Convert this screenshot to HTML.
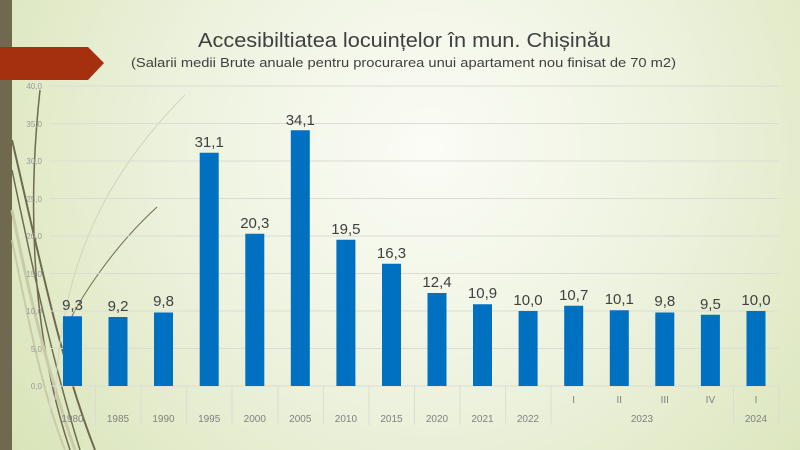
<!DOCTYPE html>
<html><head><meta charset="utf-8"><style>
body{margin:0;width:800px;height:450px;overflow:hidden;font-family:"Liberation Sans",sans-serif;}
</style></head><body>
<svg width="800" height="450" xmlns="http://www.w3.org/2000/svg" style="display:block">
<defs>
<radialGradient id="bg" cx="430" cy="150" r="520" gradientUnits="userSpaceOnUse">
<stop offset="0" stop-color="#fbfcf6"/><stop offset="0.45" stop-color="#eef3e0"/><stop offset="1" stop-color="#d9e4b8"/>
</radialGradient>
</defs>
<rect width="800" height="450" fill="url(#bg)"/>
<rect x="0" y="0" width="12" height="450" fill="#6f6a4f"/>
<g fill="none">
<path d="M40 90 C28 200 30 330 70 450" stroke="#6f6a4f" stroke-width="1.5"/>
<path d="M12 140 C40 260 60 360 95 450" stroke="#6f6a4f" stroke-width="2"/>
<path d="M12 170 C35 280 55 370 80 450" stroke="#6f6a4f" stroke-width="1.5"/>
<path d="M12 210 C30 300 50 380 75 450" stroke="#c8caa8" stroke-width="3"/>
<path d="M12 240 C30 330 45 400 65 450" stroke="#c8caa8" stroke-width="2"/>
<path d="M185 95 C110 170 60 260 55 400" stroke="#d2d4bc" stroke-width="1"/>
<path d="M157 207 C110 250 80 300 70 320" stroke="#6f6a4f" stroke-width="1"/>
</g>
<polygon points="0,47 88,47 104,63 88,80 0,80" fill="#a5300f"/>
<text x="198" y="47" font-size="20" fill="#404040" textLength="413" lengthAdjust="spacingAndGlyphs">Accesibiltiatea locuințelor în mun. Chișinău</text>
<text x="131" y="67" font-size="13" fill="#404040" textLength="545" lengthAdjust="spacingAndGlyphs">(Salarii medii Brute anuale pentru procurarea unui apartament nou finisat de 70 m2)</text>
<g stroke="#dcdcd4" stroke-width="1">
<line x1="50" y1="86" x2="779" y2="86"/><line x1="50" y1="123.5" x2="779" y2="123.5"/>
<line x1="50" y1="161" x2="779" y2="161"/><line x1="50" y1="198.5" x2="779" y2="198.5"/>
<line x1="50" y1="236" x2="779" y2="236"/><line x1="50" y1="273.5" x2="779" y2="273.5"/>
<line x1="50" y1="311" x2="779" y2="311"/><line x1="50" y1="348.5" x2="779" y2="348.5"/>
<line x1="50" y1="386" x2="779" y2="386"/>
</g>
<g font-size="8" fill="#999" text-anchor="end">
<text x="42" y="89">40,0</text><text x="42" y="127">35,0</text><text x="42" y="164">30,0</text>
<text x="42" y="202">25,0</text><text x="42" y="239">20,0</text><text x="42" y="277">15,0</text>
<text x="42" y="314">10,0</text><text x="42" y="352">5,0</text><text x="42" y="389">0,0</text>
</g>
<g stroke="#dcdcd4">
<line x1="50" y1="386" x2="50" y2="425"/><line x1="95.5" y1="386" x2="95.5" y2="425"/>
<line x1="141" y1="386" x2="141" y2="425"/><line x1="186.7" y1="386" x2="186.7" y2="425"/>
<line x1="232" y1="386" x2="232" y2="425"/><line x1="278" y1="386" x2="278" y2="425"/>
<line x1="323.4" y1="386" x2="323.4" y2="425"/><line x1="369" y1="386" x2="369" y2="425"/>
<line x1="414.5" y1="386" x2="414.5" y2="425"/><line x1="460" y1="386" x2="460" y2="425"/>
<line x1="505.6" y1="386" x2="505.6" y2="425"/><line x1="551" y1="386" x2="551" y2="425"/>
<line x1="733.5" y1="386" x2="733.5" y2="425"/><line x1="779" y1="386" x2="779" y2="425"/>
</g>
<g fill="#0070c0">
<rect x="63" y="316.25" width="19" height="69.75"/>
<rect x="108.5" y="317" width="19" height="69"/>
<rect x="154" y="312.5" width="19" height="73.5"/>
<rect x="199.7" y="152.75" width="19" height="233.25"/>
<rect x="245.3" y="233.75" width="19" height="152.25"/>
<rect x="290.8" y="130.25" width="19" height="255.75"/>
<rect x="336.4" y="239.75" width="19" height="146.25"/>
<rect x="382" y="263.75" width="19" height="122.25"/>
<rect x="427.5" y="293" width="19" height="93"/>
<rect x="473" y="304.25" width="19" height="81.75"/>
<rect x="518.6" y="311" width="19" height="75"/>
<rect x="564.2" y="305.75" width="19" height="80.25"/>
<rect x="609.8" y="310.25" width="19" height="75.75"/>
<rect x="655.3" y="312.5" width="19" height="73.5"/>
<rect x="700.9" y="314.75" width="19" height="71.25"/>
<rect x="746.5" y="311" width="19" height="75"/>
</g>
<g font-size="15" fill="#404040" text-anchor="middle">
<text x="72.5" y="310">9,3</text><text x="118" y="311">9,2</text><text x="163.5" y="306">9,8</text>
<text x="209.2" y="147">31,1</text><text x="254.8" y="228">20,3</text><text x="300.3" y="125">34,1</text>
<text x="345.9" y="234">19,5</text><text x="391.5" y="258">16,3</text><text x="437" y="287">12,4</text>
<text x="482.5" y="298">10,9</text><text x="528" y="305">10,0</text><text x="573.7" y="300">10,7</text>
<text x="619.3" y="304">10,1</text><text x="664.8" y="306">9,8</text><text x="710.4" y="309">9,5</text>
<text x="756" y="305">10,0</text>
</g>
<g font-size="10" fill="#808080" text-anchor="middle">
<text x="72.5" y="422">1980</text><text x="118" y="422">1985</text><text x="163.5" y="422">1990</text>
<text x="209.2" y="422">1995</text><text x="254.8" y="422">2000</text><text x="300.3" y="422">2005</text>
<text x="345.9" y="422">2010</text><text x="391.5" y="422">2015</text><text x="437" y="422">2020</text>
<text x="482.5" y="422">2021</text><text x="528" y="422">2022</text><text x="642" y="422">2023</text>
<text x="756" y="422">2024</text>
<text x="573.7" y="403">I</text><text x="619.3" y="403">II</text><text x="664.8" y="403">III</text>
<text x="710.4" y="403">IV</text><text x="756" y="403">I</text>
</g>
</svg>
</body></html>
